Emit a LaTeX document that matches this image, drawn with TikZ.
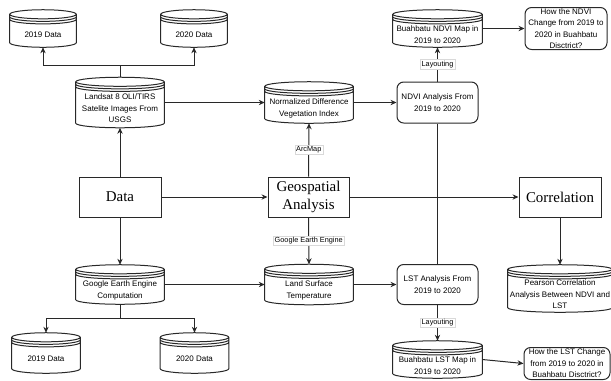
\documentclass[tikz,border=0pt]{standalone}
\usepackage{fontspec}
\setmainfont{Liberation Serif}
\setsansfont{Liberation Sans}
\usetikzlibrary{arrows.meta,calc}
\definecolor{linegray}{RGB}{40,40,40}

% Datenspeicher-Umriss um einen benannten Knoten
\newcommand{\storeshape}[1]{%
  \draw[shapeline] let \p1=(#1.north west), \p2=(#1.south east), \n1={(\x2-\x1)/2} in
    (\x1,\y1-3.4pt) -- (\x1,\y2+3.4pt)
    arc[start angle=180, end angle=360, x radius=\n1, y radius=3.4pt]
    -- (\x2,\y1-3.4pt)
    arc[start angle=0, end angle=180, x radius=\n1, y radius=3.4pt]
    arc[start angle=180, end angle=360, x radius=\n1, y radius=3.4pt]
    (\x1,\y1-5.3pt) arc[start angle=180, end angle=360, x radius=\n1, y radius=3.4pt]
    (\x1,\y1-7.2pt) arc[start angle=180, end angle=360, x radius=\n1, y radius=3.4pt];
}

\begin{document}
\begin{tikzpicture}[x=0.75pt, y=-0.75pt,
    shapeline/.style={draw=linegray, line width=0.75pt},
    arrowline/.style={draw=linegray, line width=0.75pt, -{Stealth[length=4.5pt,width=4pt]}},
    small/.style={font=\sffamily\fontsize{6}{8.6}\selectfont, align=center},
    store/.style={inner sep=0pt, minimum width=66pt},
    storetext/.style={small, yshift=-4.5pt},
    block/.style={draw=linegray, line width=0.75pt, font=\fontsize{11.2}{13.7}\selectfont, align=center, minimum width=61.5pt, minimum height=30pt, inner sep=0pt},
    roundbox/.style={draw=linegray, line width=0.75pt, rounded corners=5pt, small, minimum width=60.75pt, minimum height=30.75pt, inner sep=0pt},
    lbl/.style={fill=white, draw=black!15, line width=0.3pt, font=\sffamily\fontsize{5.5}{6}\selectfont, inner sep=1pt}]

    \useasboundingbox (0,0) rectangle (611,380);

    % --- Spalte 1: Daten ---
    \node[store, minimum width=49.5pt, minimum height=27.75pt, label={[storetext]center:2019 Data}] (top2019) at (43,28.5) {};
    \node[store, minimum width=49.5pt, minimum height=27.75pt, label={[storetext]center:2020 Data}] (top2020) at (194,28.5) {};
    \node[store, minimum height=37.5pt, label={[storetext]center:{Landsat 8 OLI/TIRS\\Satelite Images From\\USGS}}] (landsat) at (120,102.5) {};
    \node[block] (data) at (120,197) {Data};
    \node[store, minimum height=29.25pt, label={[storetext]center:{Google Earth Engine\\Computation}}] (gee) at (120,284.5) {};
    \node[store, minimum width=51pt, minimum height=30pt, label={[storetext]center:2019 Data}] (bot2019) at (46,353) {};
    \node[store, minimum width=51pt, minimum height=30pt, label={[storetext]center:2020 Data}] (bot2020) at (194.5,353) {};

    % --- Spalte 2: Verarbeitung ---
    \node[store, minimum height=30.75pt, label={[storetext]center:{Normalized Difference\\Vegetation Index}}] (ndvi) at (309,102.5) {};
    \node[block, minimum width=60.75pt] (geo) at (308.5,197) {Geospatial\\Analysis};
    \node[store, minimum height=30pt, label={[storetext]center:{Land Surface\\Temperature}}] (lst) at (309,284.5) {};

    % --- Spalte 3: Analyse ---
    \node[store, minimum width=66.75pt, minimum height=27.75pt, label={[storetext]center:{Buahbatu NDVI Map in\\2019 to 2020}}] (ndvimap) at (437.5,28.5) {};
    \node[roundbox] (ndvian) at (437.5,102.5) {NDVI Analysis From\\2019 to 2020};
    \node[roundbox, minimum height=30pt] (lstan) at (437.5,284.5) {LST Analysis From\\2019 to 2020};
    \node[store, minimum width=66.75pt, minimum height=27.75pt, label={[storetext]center:{Buahbatu LST Map in\\2019 to 2020}}] (lstmap) at (437.5,359.5) {};

    % --- Spalte 4: Ergebnis ---
    \node[roundbox, minimum width=61.5pt, minimum height=31.5pt] (ndviq) at (566,28.5) {How the NDVI\\Change from 2019 to\\2020 in Buahbatu\\Disctrict?};
    \node[block] (corr) at (560,197) {Correlation};
    \node[store, minimum width=78pt, minimum height=35.25pt, label={[storetext]center:{Pearson Correlation\\Analysis Between NDVI and\\LST}}] (pearson) at (560,288.5) {};
    \node[roundbox, minimum width=64.5pt, minimum height=24pt] (lstq) at (567,363.5) {How the LST Change\\from 2019 to 2020 in\\Buahbatu Disctrict?};

    \foreach \s in {top2019,top2020,landsat,gee,bot2019,bot2020,ndvi,lst,ndvimap,lstmap,pearson}
        \storeshape{\s};

    % Verbindungen
    \coordinate (upsplit) at (120,65);
    \coordinate (downsplit) at (120,318);
    \draw[shapeline] (landsat.north) -- (upsplit);
    \draw[arrowline] (upsplit) -| (top2019.south);
    \draw[arrowline] (upsplit) -| (top2020.south);
    \draw[arrowline] (data.north) -- (landsat.south);
    \draw[arrowline] (data.south) -- (gee.north);
    \draw[shapeline] (gee.south) -- (downsplit);
    \draw[arrowline] (downsplit) -| (bot2019.north);
    \draw[arrowline] (downsplit) -| (bot2020.north);

    \draw[arrowline] (data) -- (geo);
    \draw[arrowline] (landsat.east) -- (ndvi.west);
    \draw[arrowline] (gee.east) -- (lst.west);
    \draw[arrowline] (geo.north) -- node[lbl] {ArcMap} (ndvi.south);
    \draw[arrowline] (geo.south) -- node[lbl] {Google Earth Engine} (lst.north);

    \draw[arrowline] (ndvi.east) -- (ndvian.west);
    \draw[arrowline] (lst.east) -- (lstan.west);
    \draw[arrowline] (ndvian.north) -- node[lbl] {Layouting} (ndvimap.south);
    \draw[arrowline] (lstan.south) -- node[lbl] {Layouting} (lstmap.north);
    \draw[shapeline] (ndvian.south) -- (lstan.north);

    \draw[arrowline] (geo) -- (corr);
    \draw[arrowline] (corr.south) -- (pearson.north);
    \draw[arrowline] (ndvimap.east) -- (ndviq.west);
    \draw[arrowline] (lstmap.east) -- (lstq.west);

\end{tikzpicture}
\end{document}
